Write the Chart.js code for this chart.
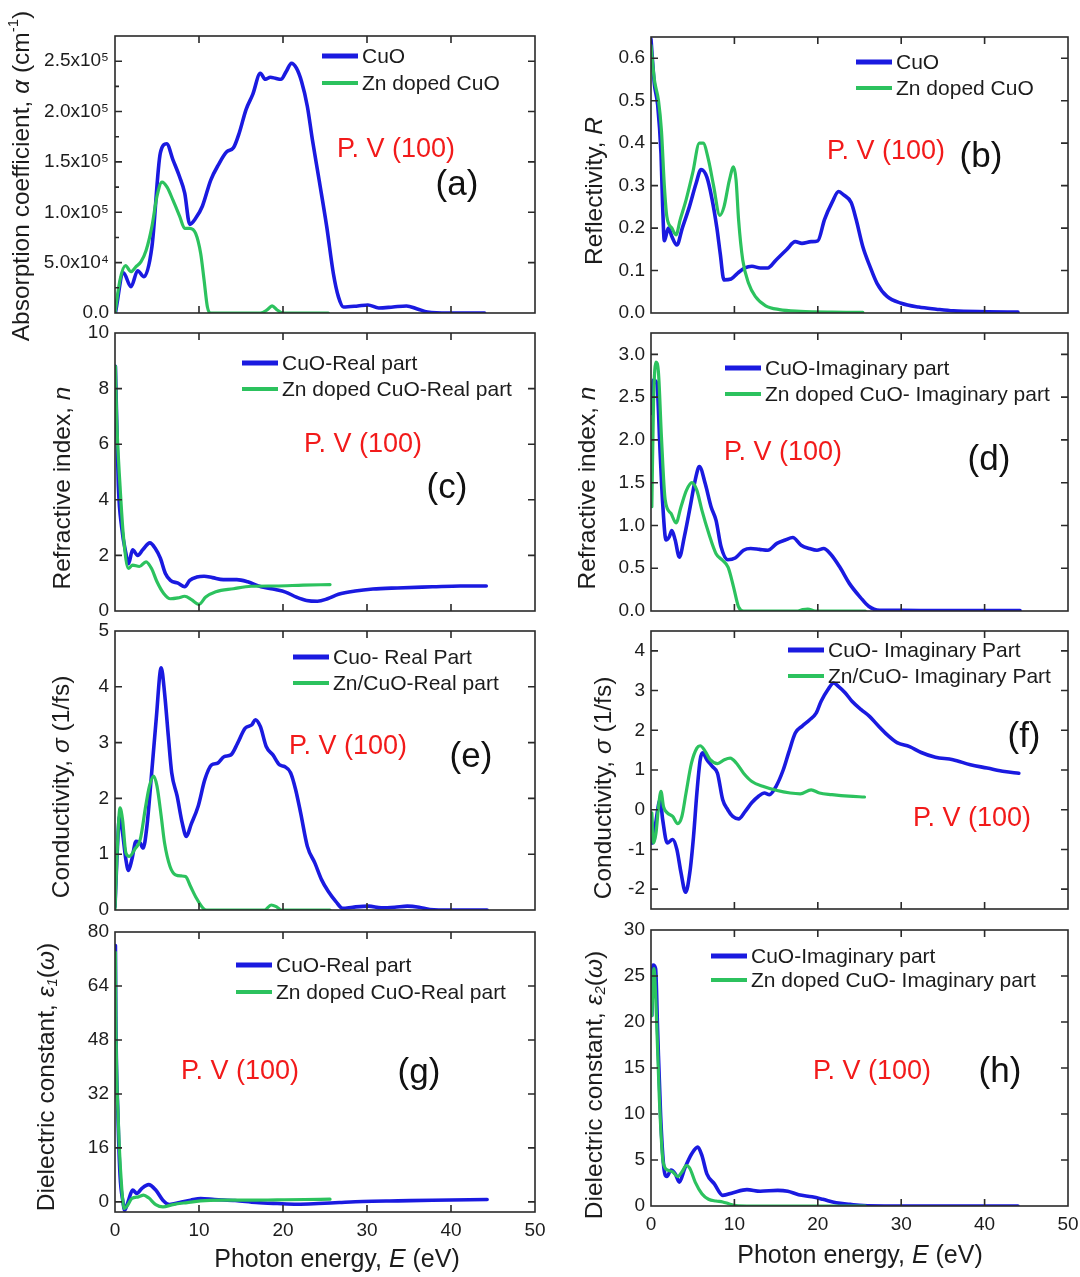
<!DOCTYPE html>
<html>
<head>
<meta charset="utf-8">
<script src="https://cdn.jsdelivr.net/npm/chart.js@4.4.1/dist/chart.umd.min.js"></script>
<style>
body{margin:0;background:#fff;}
#wrap{position:relative;width:1080px;height:1277px;overflow:hidden;}
canvas{position:absolute;top:0;}
</style>
</head>
<body>
<div id="wrap">
<canvas id="pa" width="560" height="1277" style="left:0px"></canvas>
<canvas id="pb" width="560" height="1277" style="left:540px"></canvas>
<canvas id="pc" width="560" height="1277" style="left:0px"></canvas>
<canvas id="pd" width="560" height="1277" style="left:540px"></canvas>
<canvas id="pe" width="560" height="1277" style="left:0px"></canvas>
<canvas id="pf" width="560" height="1277" style="left:540px"></canvas>
<canvas id="pg" width="560" height="1277" style="left:0px"></canvas>
<canvas id="ph" width="560" height="1277" style="left:540px"></canvas>
</div>
<script>
// ---- data (photon energy in eV) ----

// (a) absorption coefficient (cm^-1)
const aE_cuo = [0.05,1.0,1.9,2.7,3.45,4.4,5.4,6.15,6.9,7.7,8.3,8.9,9.6,10.4,11.4,12.3,13.3,14.1,14.8,15.6,16.4,17.3,17.9,18.5,19.1,19.75,20.4,21.0,21.6,22.2,22.9,23.5,24.3,25.2,26.0,26.6,27.2,28.9,30.1,31.4,33.1,34.7,36.0,37.2,39.7,44.0];
const aY_cuo = [0,40000,26000,42000,36000,66000,159000,168000,152000,135000,119000,88000,94000,106000,132000,147000,160000,164000,179000,202000,217000,238000,232000,234000,233000,232000,240000,248000,243000,230000,205000,172000,132000,86000,39000,16000,6000,7000,8000,5000,6000,7000,4000,1000,0,0];
const aE_zn = [0,0.6,1.25,1.9,2.5,3.1,3.7,4.4,5.0,5.6,6.2,6.9,7.7,8.3,8.9,9.6,10.2,10.6,11.0,11.4,17.3,18.1,18.7,19.3,20.0,25.4];
const aY_zn = [0,33000,47000,41000,46000,51000,62000,86000,116000,130000,125000,112000,96000,84000,84000,79000,59000,33000,6000,0,0,3000,7000,3000,0,0];
const aTicks = [0,50000,100000,150000,200000,250000];
const aMinor = [25000,75000,125000,175000,225000];

// (b) reflectivity
const bE_cuo = [0,0.4,0.8,1.2,1.4,1.6,1.9,2.1,2.5,3.1,3.75,4.6,5.4,6.0,6.7,7.3,7.9,8.3,8.75,9.6,10.4,11.25,12.1,13.1,14.0,15.0,16.25,17.3,18.1,19.2,20.0,20.8,21.7,22.5,23.1,24.0,24.6,25.4,26.25,27.1,28.3,30.0,32.1,34.2,36.25,40.4,44.0];
const bY_cuo = [0.645,0.54,0.49,0.375,0.25,0.17,0.19,0.20,0.18,0.16,0.20,0.25,0.305,0.338,0.32,0.27,0.20,0.14,0.078,0.08,0.094,0.106,0.11,0.106,0.106,0.125,0.149,0.168,0.164,0.168,0.17,0.22,0.26,0.286,0.278,0.26,0.22,0.156,0.11,0.07,0.039,0.023,0.014,0.009,0.005,0.003,0.002];
const bE_zn = [0,0.4,0.9,1.25,1.6,1.9,2.5,3.0,3.5,4.2,5.0,5.8,6.25,6.9,7.5,8.25,8.75,9.4,9.9,10.2,10.5,11.0,11.7,12.5,13.75,15.4,17.9,21.7,25.4];
const bY_zn = [0.63,0.55,0.50,0.43,0.30,0.227,0.20,0.184,0.22,0.266,0.33,0.40,0.40,0.36,0.30,0.23,0.25,0.313,0.344,0.313,0.22,0.125,0.07,0.039,0.017,0.008,0.004,0.002,0.0015];
const bTicks = [0,0.1,0.2,0.3,0.4,0.5,0.6];

// (c) refractive index, real part
const cE_cuo = [0.05,0.2,0.4,0.8,1.3,1.6,2.1,2.7,3.3,4.15,4.8,5.4,6.0,6.6,7.5,8.3,8.9,9.75,10.6,11.6,12.9,14.5,15.8,17.4,19.1,20.3,21.6,22.8,24.1,25.3,26.6,28.6,30.7,33.6,37.8,41.1,44.2];
const cY_cuo = [8.8,6.9,4.5,3.0,2.07,1.7,2.2,2.0,2.2,2.45,2.25,1.9,1.35,1.1,1.0,0.87,1.1,1.22,1.25,1.2,1.13,1.13,1.05,0.87,0.77,0.68,0.5,0.38,0.35,0.44,0.6,0.72,0.79,0.83,0.87,0.9,0.9];
const cE_zn = [0.05,0.2,0.6,1.0,1.6,2.1,2.9,3.7,4.35,5.0,5.8,6.6,7.5,8.3,9.1,10.0,10.8,12.0,14.1,16.2,19.1,22.4,25.6];
const cY_zn = [8.8,6.9,4.5,2.7,1.53,1.65,1.6,1.77,1.53,1.05,0.63,0.44,0.47,0.53,0.41,0.24,0.5,0.69,0.8,0.89,0.9,0.93,0.95];
const cTicks = [0,2,4,6,8,10];

// (d) refractive index, imaginary part
const dE_cuo = [0.1,0.3,0.7,1.1,1.4,1.8,2.2,2.5,2.9,3.4,4.0,4.7,5.3,5.8,6.5,7.2,7.8,8.4,9.2,10.1,11.1,11.95,13.0,14.0,15.1,16.1,17.0,18.0,19.0,19.9,20.7,21.5,22.6,23.8,25.1,26.1,27.4,30.0,34.25,44.25];
const dY_cuo = [2.31,2.7,2.66,1.84,1.26,0.83,0.87,0.94,0.83,0.63,0.87,1.22,1.53,1.69,1.49,1.22,1.06,0.75,0.6,0.62,0.71,0.73,0.72,0.71,0.79,0.83,0.86,0.77,0.73,0.71,0.73,0.67,0.52,0.32,0.16,0.055,0.008,0.008,0.005,0.004];
const dE_zn = [0.1,0.3,0.6,0.9,1.25,1.7,2.4,3.0,3.6,4.25,4.9,5.5,6.1,6.95,7.8,8.6,9.25,9.9,10.5,11.1,17.6,18.2,18.8,19.7,25.7];
const dY_zn = [1.22,2.43,2.91,2.78,2.04,1.3,1.14,1.03,1.22,1.41,1.5,1.41,1.18,0.9,0.67,0.59,0.51,0.28,0.047,0,0,0.016,0.023,0,0];
const dTicks = [0,0.5,1.0,1.5,2.0,2.5,3.0];

// (e) conductivity, real part (1/fs)
const eE_cuo = [0,0.25,0.55,0.9,1.3,1.6,2.0,2.5,3.0,3.35,3.8,4.3,4.9,5.5,5.9,6.35,6.75,7.4,8.0,8.5,9.05,9.9,10.7,11.5,12.2,13.0,13.8,14.6,15.5,16.3,16.7,17.3,18.0,18.8,19.6,20.2,20.9,21.5,22.1,22.9,23.8,24.6,25.4,26.3,27.1,28.3,30.2,31.7,33.3,34.8,36.2,37.5,40.0,44.3];
const eY_cuo = [0.06,1.0,1.68,1.38,0.9,0.71,0.9,1.23,1.2,1.11,1.5,2.34,3.41,4.34,3.89,3.11,2.46,2.04,1.56,1.32,1.53,1.86,2.34,2.6,2.63,2.75,2.78,2.99,3.26,3.32,3.41,3.29,2.93,2.78,2.6,2.57,2.46,2.16,1.74,1.14,0.84,0.54,0.33,0.15,0.03,0.05,0.07,0.04,0.05,0.07,0.05,0.01,0,0];
const eE_zn = [0,0.25,0.6,0.9,1.3,1.7,2.4,3.0,3.65,4.1,4.6,5.0,5.5,5.9,6.55,7.2,7.9,8.4,9.0,9.7,10.5,10.9,17.8,18.6,19.2,19.8,25.6];
const eY_zn = [0,1.02,1.83,1.62,1.02,0.96,1.1,1.26,1.86,2.22,2.4,2.22,1.68,1.2,0.78,0.63,0.61,0.6,0.42,0.21,0.03,0,0,0.09,0.06,0,0];
const eTicks = [0,1,2,3,4,5];

// (f) conductivity, imaginary part (1/fs)
const fE_cuo = [0.1,0.5,1.1,1.4,1.95,2.6,3.1,3.6,4.15,4.65,5.1,5.5,5.9,6.2,6.7,7.35,7.97,8.6,9.2,9.8,10.5,11.3,12.1,12.9,13.6,14.2,15.0,15.85,16.5,17.3,18.1,19.0,19.8,20.4,21.2,21.9,22.5,23.3,24.1,25.2,26.2,27.3,28.3,29.5,31.0,32.4,34.1,36.2,38.3,40.3,42.4,44.1];
const fY_cuo = [-0.84,-0.42,0.25,-0.25,-0.84,-0.75,-1.0,-1.59,-2.08,-1.59,-0.67,0.42,1.26,1.43,1.26,1.09,0.92,0.25,0,-0.17,-0.23,-0.04,0.18,0.34,0.42,0.38,0.59,1.0,1.43,1.93,2.1,2.26,2.43,2.73,3.02,3.19,3.1,2.94,2.73,2.52,2.35,2.1,1.89,1.69,1.59,1.44,1.32,1.26,1.13,1.05,0.96,0.92];
const fE_zn = [0.1,0.3,0.6,0.9,1.2,1.5,1.95,2.6,3.2,3.7,4.2,4.85,5.5,5.9,6.5,7.1,7.97,8.8,9.5,10.25,11.1,12.1,13.4,15.0,16.7,17.9,19.2,20.2,21.7,23.7,25.6];
const fY_zn = [-0.08,-0.84,-0.59,0.08,0.46,0.08,-0.08,-0.17,-0.35,-0.17,0.42,1.17,1.55,1.61,1.47,1.26,1.16,1.26,1.3,1.17,0.92,0.71,0.59,0.49,0.42,0.4,0.5,0.42,0.38,0.34,0.32];
const fTicks = [-2,-1,0,1,2,3,4];

// (g) dielectric constant, real part
const gE_cuo = [0.05,0.1,0.35,0.6,0.95,1.15,1.55,2.1,2.6,3.2,4.0,4.85,5.7,6.5,7.7,9.0,10.2,11.85,14.3,16.8,19.3,21.7,24.2,26.7,29.5,33.7,37.8,44.3];
const gY_cuo = [76,55,25.7,7.9,0,-2.5,0,3.5,2.5,4,5.1,3.5,0.5,-0.8,-0.2,0.5,1.0,0.7,0.4,-0.2,-0.5,-0.7,-0.5,-0.2,0.1,0.3,0.5,0.7];
const gE_zn = [0.05,0.1,0.4,0.75,1.1,1.5,2.0,2.8,3.4,4.0,4.85,5.7,6.9,8.6,10.2,12.7,16.0,19.3,22.6,25.6];
const gY_zn = [74,55,23.7,5.9,-2,-1,1,1.5,2.0,1.2,-0.8,-1.5,-0.8,-0.2,0.3,0.5,0.5,0.6,0.7,0.8];
const gTicks = [0,16,32,48,64,80];

// (h) dielectric constant, imaginary part
const hE_cuo = [0.1,0.25,0.55,0.8,1.15,1.55,1.9,2.4,2.9,3.4,4.05,4.9,5.6,6.1,6.7,7.6,8.6,9.85,11.5,13.1,15.2,16.4,17.7,19.3,20.6,22.2,23.9,25.5,28.0,44.0];
const hY_cuo = [20.7,26.2,25.8,18.9,9.9,4.1,3.2,3.9,3.5,2.6,4.1,5.7,6.4,5.5,3.5,2.4,1.16,1.45,1.78,1.6,1.7,1.6,1.23,1.0,0.73,0.36,0.18,0.04,0,0];
const hE_zn = [0.1,0.35,0.65,1.0,1.45,2.0,2.6,3.2,3.7,4.25,4.65,5.3,6.1,6.9,7.8,8.6,9.4,10.2,11.5,25.7];
const hY_zn = [20.7,25.8,20.7,11.7,4.8,3.9,3.7,3.2,3.7,4.4,4.1,2.6,1.34,0.73,0.54,0.44,0.22,0.04,0,0];
const hTicks = [0,5,10,15,20,25,30];

const xTicks = [0,10,20,30,40,50];

// ---- styling ----
const FONT = "'Liberation Sans', Arial, sans-serif";
const BLUE = "#1a1ae0";
const GREEN = "#2cc25e";
const RED = "#f21a1a";
const INK = "#1c1c1c";

function pts(xs, ys){
  return xs.map((x,i)=>({x:x, y:ys[i]}));
}

function fmtAlpha(v){
  if(v===0) return "0.0";
  if(v<100000) return (v/10000).toFixed(1)+"x10\u2074";
  return (v/100000).toFixed(1)+"x10\u2075";
}

function fontFor(style, size){
  let s = size;
  if(style==="sup" || style==="sub" || style==="isub") s = Math.round(size*0.62);
  const it = (style==="i" || style==="isub") ? "italic " : "";
  return it + s + "px " + FONT;
}

// draw text made of parts [text, style]
function richText(ctx, parts, x, y, size, align){
  const w = parts.map(p=>{ ctx.font = fontFor(p[1], size); return ctx.measureText(p[0]).width; });
  const total = w.reduce((a,b)=>a+b,0);
  let cx = align==="center" ? x - total/2 : x;
  ctx.textAlign = "left";
  ctx.textBaseline = "middle";
  parts.forEach((p,i)=>{
    ctx.font = fontFor(p[1], size);
    let dy = 0;
    if(p[1]==="sup") dy = -size*0.33;
    if(p[1]==="sub" || p[1]==="isub") dy = size*0.22;
    ctx.fillText(p[0], cx, y+dy);
    cx += w[i];
  });
}

const deco = {
  id:"deco",
  afterDatasetsDraw(chart, args, o){
    const ctx = chart.ctx;
    const a = chart.chartArea;
    const xs = chart.scales.x, ys = chart.scales.y;
    const off = o.offset;
    ctx.save();
    // frame
    ctx.strokeStyle = "#2a2a2a";
    ctx.lineWidth = 1.6;
    ctx.strokeRect(a.left, a.top, a.right-a.left, a.bottom-a.top);
    // inward ticks on all four sides
    ctx.beginPath();
    xs.ticks.forEach(t=>{
      if(t.value<=xs.min || t.value>=xs.max) return;
      const px = xs.getPixelForValue(t.value);
      ctx.moveTo(px, a.bottom); ctx.lineTo(px, a.bottom-7);
      ctx.moveTo(px, a.top); ctx.lineTo(px, a.top+7);
    });
    ys.ticks.forEach(t=>{
      const py = ys.getPixelForValue(t.value);
      if(Math.abs(py-a.top)<1 || Math.abs(py-a.bottom)<1) return;
      ctx.moveTo(a.left, py); ctx.lineTo(a.left+7, py);
      ctx.moveTo(a.right, py); ctx.lineTo(a.right-7, py);
    });
    (o.minor || []).forEach(v=>{
      const py = ys.getPixelForValue(v);
      ctx.moveTo(a.left, py); ctx.lineTo(a.left+4, py);
    });
    ctx.stroke();

    // legend
    const lg = o.legend;
    chart.data.datasets.forEach((ds,i)=>{
      const ly = lg.y + i*lg.gap;
      ctx.strokeStyle = ds.borderColor;
      ctx.lineWidth = i===0 ? 5 : 4;
      ctx.lineCap = "butt";
      ctx.beginPath();
      ctx.moveTo(lg.x-off, ly); ctx.lineTo(lg.x-off+36, ly);
      ctx.stroke();
      ctx.fillStyle = INK;
      ctx.font = "21px " + FONT;
      ctx.textAlign = "left";
      ctx.textBaseline = "middle";
      ctx.fillText(ds.label, lg.x-off+40, ly+1);
    });

    // P. V (100) and panel tag
    ctx.fillStyle = RED;
    ctx.font = "27px " + FONT;
    ctx.textAlign = "left";
    ctx.textBaseline = "middle";
    ctx.fillText("P. V (100)", o.pv[0]-off, o.pv[1]);
    ctx.fillStyle = "#111";
    ctx.font = "35px " + FONT;
    ctx.textAlign = "center";
    ctx.fillText(o.tag[0], o.tag[1]-off, o.tag[2]);

    // y axis title (rotated)
    ctx.fillStyle = INK;
    ctx.save();
    ctx.translate(o.ytitle.x-off, o.ytitle.y);
    ctx.rotate(-Math.PI/2);
    richText(ctx, o.ytitle.parts, 0, 0, 24.5, "center");
    ctx.restore();

    // x axis title on the bottom row
    if(o.xtitle){
      richText(ctx, [["Photon energy, ",""],["E","i"],[" (eV)",""]], o.xtitle[0]-off, o.xtitle[1], 25, "center");
    }
    ctx.restore();
  }
};

Chart.register(deco);

function makePanel(p){
  const col = p.col;
  const canvasLeft = col===0 ? 0 : 540;
  const canvasW = 560;
  const boxLeft = col===0 ? 115 : 651;
  const boxRight = col===0 ? 535 : 1068;
  const bottomRow = !!p.xtitle;

  new Chart(document.getElementById(p.id),{
    type:"line",
    data:{
      datasets:[
        {label:p.labels[0], data:pts(p.cuo[0],p.cuo[1]), borderColor:BLUE, borderWidth:3.6, order:2},
        {label:p.labels[1], data:pts(p.zn[0],p.zn[1]), borderColor:GREEN, borderWidth:3.2, order:1}
      ]
    },
    options:{
      responsive:false,
      animation:false,
      events:[],
      devicePixelRatio:1,
      layout:{padding:{left:0, right:canvasLeft+canvasW-boxRight, top:p.top, bottom:0}},
      elements:{
        point:{radius:0},
        line:{cubicInterpolationMode:"monotone", borderJoinStyle:"round", borderCapStyle:"round", fill:false}
      },
      plugins:{
        legend:{display:false},
        tooltip:{enabled:false},
        deco:{
          offset:canvasLeft,
          legend:p.legend,
          pv:p.pv,
          tag:p.tag,
          ytitle:p.ytitle,
          xtitle:p.xtitle,
          minor:p.minor
        }
      },
      scales:{
        x:{
          type:"linear",
          min:0,
          max:50,
          afterBuildTicks:(s)=>{ s.ticks = xTicks.map(v=>({value:v})); },
          afterFit:(s)=>{ s.height = 1277 - p.bottom; s.paddingLeft = 0; s.paddingRight = 0; },
          grid:{display:false, drawTicks:false},
          border:{display:false},
          ticks:{
            display:bottomRow,
            padding:7,
            color:INK,
            font:{family:FONT, size:19},
            maxRotation:0,
            autoSkip:false
          }
        },
        y:{
          type:"linear",
          min:p.ymin,
          max:p.ymax,
          afterBuildTicks:(s)=>{ s.ticks = p.ticks.map(v=>({value:v})); },
          afterFit:(s)=>{ s.width = boxLeft - canvasLeft; s.paddingTop = 0; s.paddingBottom = 0; },
          grid:{display:false, drawTicks:false},
          border:{display:false},
          ticks:{
            autoSkip:false,
            padding:6,
            color:INK,
            font:{family:FONT, size:19},
            callback:p.fmt
          }
        }
      }
    }
  });
}

const dec1 = v => Number(v).toFixed(1);
const int0 = v => String(Math.round(v));

makePanel({id:"pa", col:0, top:36, bottom:313, ymin:0, ymax:275000, ticks:aTicks, minor:aMinor, fmt:fmtAlpha,
  cuo:[aE_cuo,aY_cuo], zn:[aE_zn,aY_zn], labels:["CuO","Zn doped CuO"],
  legend:{x:322, y:56, gap:27}, pv:[337,150], tag:["(a)",457,185],
  ytitle:{x:22, y:176, parts:[["Absorption coefficient, ",""],["\u03b1","i"],[" (cm",""],["-1","sup"],[")",""]]}});

makePanel({id:"pb", col:1, top:37, bottom:313, ymin:0, ymax:0.65, ticks:bTicks, fmt:dec1,
  cuo:[bE_cuo,bY_cuo], zn:[bE_zn,bY_zn], labels:["CuO","Zn doped CuO"],
  legend:{x:856, y:62, gap:26}, pv:[827,152], tag:["(b)",981,157],
  ytitle:{x:595, y:191, parts:[["Reflectivity, ",""],["R","i"]]}});

makePanel({id:"pc", col:0, top:333, bottom:611, ymin:0, ymax:10, ticks:cTicks, fmt:int0,
  cuo:[cE_cuo,cY_cuo], zn:[cE_zn,cY_zn], labels:["CuO-Real part","Zn doped CuO-Real part"],
  legend:{x:242, y:363, gap:26}, pv:[304,445], tag:["(c)",447,488],
  ytitle:{x:63, y:488, parts:[["Refractive index, ",""],["n","i"]]}});

makePanel({id:"pd", col:1, top:333, bottom:611, ymin:0, ymax:3.25, ticks:dTicks, fmt:dec1,
  cuo:[dE_cuo,dY_cuo], zn:[dE_zn,dY_zn], labels:["CuO-Imaginary part","Zn doped CuO- Imaginary part"],
  legend:{x:725, y:368, gap:26}, pv:[724,453], tag:["(d)",989,460],
  ytitle:{x:588, y:488, parts:[["Refractive index, ",""],["n","i"]]}});

makePanel({id:"pe", col:0, top:631, bottom:910, ymin:0, ymax:5, ticks:eTicks, fmt:int0,
  cuo:[eE_cuo,eY_cuo], zn:[eE_zn,eY_zn], labels:["Cuo- Real Part","Zn/CuO-Real part"],
  legend:{x:293, y:657, gap:26}, pv:[289,747], tag:["(e)",471,757],
  ytitle:{x:62, y:787, parts:[["Conductivity, ",""],["\u03c3","i"],[" (1/fs)",""]]}});

makePanel({id:"pf", col:1, top:631, bottom:909, ymin:-2.5, ymax:4.5, ticks:fTicks, fmt:int0,
  cuo:[fE_cuo,fY_cuo], zn:[fE_zn,fY_zn], labels:["CuO- Imaginary Part","Zn/CuO- Imaginary Part"],
  legend:{x:788, y:650, gap:26}, pv:[913,819], tag:["(f)",1024,737],
  ytitle:{x:604, y:788, parts:[["Conductivity, ",""],["\u03c3","i"],[" (1/fs)",""]]}});

makePanel({id:"pg", col:0, top:932, bottom:1212, ymin:-3, ymax:80, ticks:gTicks, fmt:int0,
  cuo:[gE_cuo,gY_cuo], zn:[gE_zn,gY_zn], labels:["CuO-Real part","Zn doped CuO-Real part"],
  legend:{x:236, y:965, gap:27}, pv:[181,1072], tag:["(g)",419,1073],
  ytitle:{x:47, y:1077, parts:[["Dielectric constant, ",""],["\u03b5","i"],["1","isub"],["(",""],["\u03c9","i"],[")",""]]},
  xtitle:[337,1260]});

makePanel({id:"ph", col:1, top:930, bottom:1206, ymin:0, ymax:30, ticks:hTicks, fmt:int0,
  cuo:[hE_cuo,hY_cuo], zn:[hE_zn,hY_zn], labels:["CuO-Imaginary part","Zn doped CuO- Imaginary part"],
  legend:{x:711, y:956, gap:24}, pv:[813,1072], tag:["(h)",1000,1072],
  ytitle:{x:595, y:1085, parts:[["Dielectric constant, ",""],["\u03b5","i"],["2","isub"],["(",""],["\u03c9","i"],[")",""]]},
  xtitle:[860,1256]});
</script>
</body>
</html>
